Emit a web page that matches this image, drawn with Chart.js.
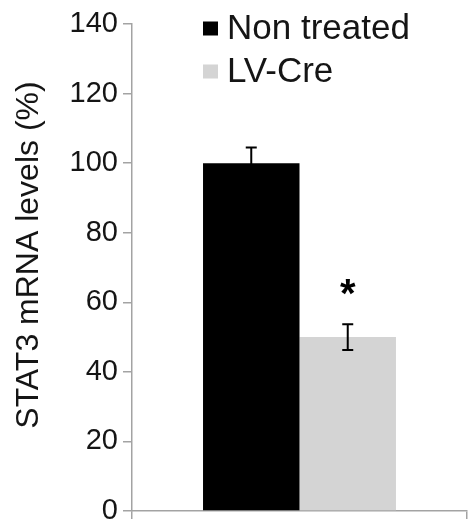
<!DOCTYPE html>
<html>
<head>
<meta charset="utf-8">
<script src="https://cdn.jsdelivr.net/npm/chart.js@4/dist/chart.umd.min.js"></script>
<style>
  html, body { margin: 0; padding: 0; background: #fff; }
  #c { display: block; }
</style>
</head>
<body>
<canvas id="c" width="468" height="529"></canvas>
<script>
// ---- data ----
const categories = [''];
const seriesLabels = ['Non treated', 'LV-Cre'];
const seriesValues = [100, 50];
const seriesErrors = [4.5, 3.7];
const seriesMarks = ['', '*'];
const seriesColors = ['#000000', '#d4d4d4'];
const yTicks = [0, 20, 40, 60, 80, 100, 120, 140];
const yTitle = 'STAT3 mRNA levels (%)';

const FONT = '"Liberation Sans", Arial, Helvetica, sans-serif';
const TEXT = '#151515';
const AXIS = '#a3a3a3';

const datasets = seriesLabels.map((lab, i) => ({
  label: lab,
  data: [seriesValues[i]],
  backgroundColor: seriesColors[i],
  borderWidth: 0,
  barPercentage: 1,
  categoryPercentage: 0.576
}));

const extras = {
  id: 'extras',
  afterDatasetsDraw(chart) {
    const ctx = chart.ctx;
    const ys = chart.scales.y;
    ctx.save();
    chart.data.datasets.forEach((ds, i) => {
      const bar = chart.getDatasetMeta(i).data[0];
      const v = seriesValues[i], e = seriesErrors[i];
      const yt = ys.getPixelForValue(v + e);
      const yb = ys.getPixelForValue(v - e);
      const x = bar.x;
      ctx.strokeStyle = '#000';
      ctx.lineWidth = 2;
      ctx.beginPath();
      ctx.moveTo(x, yt); ctx.lineTo(x, yb);
      ctx.moveTo(x - 5.5, yt); ctx.lineTo(x + 5.5, yt);
      ctx.moveTo(x - 5.5, yb); ctx.lineTo(x + 5.5, yb);
      ctx.stroke();
      if (seriesMarks[i]) {
        ctx.fillStyle = '#000';
        ctx.font = 'bold 40px ' + FONT;
        ctx.textAlign = 'center';
        ctx.textBaseline = 'middle';
        ctx.fillText(seriesMarks[i], x, yt - 28);
      }
    });
    // legend
    ctx.font = '35px ' + FONT;
    ctx.textAlign = 'left';
    ctx.textBaseline = 'middle';
    const rows = [28.5, 71.5];
    seriesLabels.forEach((lab, i) => {
      ctx.fillStyle = seriesColors[i];
      ctx.fillRect(203, rows[i] - 7, 15, 14);
      ctx.fillStyle = TEXT;
      ctx.fillText(lab, 227, rows[i] + 1);
    });
    // y title
    ctx.save();
    ctx.translate(29, 255);
    ctx.rotate(-Math.PI / 2);
    ctx.font = '32px ' + FONT;
    ctx.textAlign = 'center';
    ctx.textBaseline = 'middle';
    ctx.fillStyle = TEXT;
    ctx.fillText(yTitle, 0, 0);
    ctx.restore();
    ctx.restore();
  }
};

new Chart(document.getElementById('c'), {
  type: 'bar',
  data: { labels: categories, datasets },
  options: {
    responsive: false,
    animation: false,
    devicePixelRatio: 1,
    layout: { padding: { top: 24, right: 1, left: 0, bottom: 0 } },
    plugins: { legend: { display: false }, tooltip: { enabled: false } },
    scales: {
      x: {
        grid: { display: true, drawOnChartArea: false, drawTicks: true, tickLength: 8, color: AXIS, lineWidth: 1.5, offset: true },
        border: { display: true, color: AXIS, width: 1.5 },
        ticks: { display: false },
        afterFit(s) { s.height = 14; }
      },
      y: {
        min: 0, max: 140,
        afterBuildTicks(s) { s.ticks = yTicks.map(v => ({ value: v })); },
        grid: { display: true, drawOnChartArea: false, drawTicks: true, tickLength: 9, color: AXIS, lineWidth: 1.5 },
        border: { display: true, color: AXIS, width: 1.5 },
        ticks: { color: TEXT, padding: 5, font: { family: FONT, size: 29, lineHeight: 0.9 } },
        afterFit(s) { s.width = 132; }
      }
    }
  },
  plugins: [extras]
});
</script>
</body>
</html>
